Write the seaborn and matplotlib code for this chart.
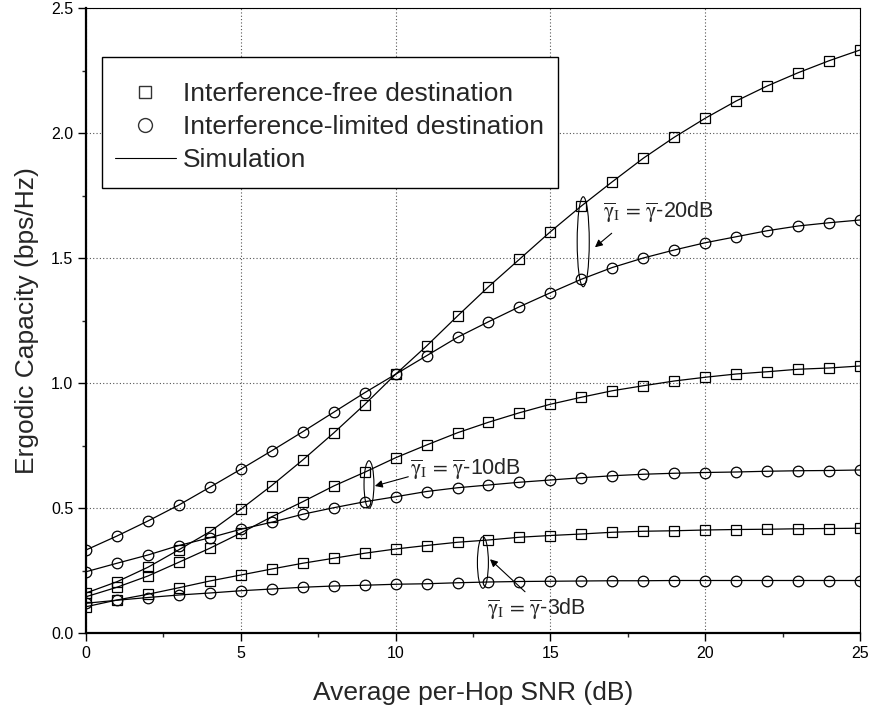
import matplotlib
matplotlib.use("Agg")
import matplotlib.pyplot as plt
from matplotlib.lines import Line2D
from matplotlib.patches import Ellipse, Rectangle
from matplotlib.ticker import MultipleLocator, AutoMinorLocator
import seaborn as sns
import pandas as pd

# ---------------- data ----------------
snr = list(range(26))
free_20 = [0.160, 0.205, 0.263, 0.333, 0.405, 0.495, 0.590, 0.692, 0.800, 0.914, 1.035, 1.148,
           1.268, 1.385, 1.495, 1.605, 1.708, 1.805, 1.899, 1.983, 2.059, 2.128, 2.188, 2.241,
           2.289, 2.332]
lim_20 = [0.332, 0.388, 0.448, 0.512, 0.583, 0.655, 0.729, 0.805, 0.883, 0.961, 1.035, 1.109,
          1.183, 1.245, 1.305, 1.361, 1.415, 1.462, 1.500, 1.532, 1.561, 1.585, 1.609, 1.628,
          1.641, 1.652]
free_10 = [0.145, 0.183, 0.228, 0.283, 0.339, 0.400, 0.465, 0.525, 0.588, 0.643, 0.701, 0.752,
           0.801, 0.843, 0.881, 0.915, 0.943, 0.969, 0.989, 1.008, 1.023, 1.036, 1.045, 1.055,
           1.060, 1.068]
lim_10 = [0.245, 0.279, 0.312, 0.350, 0.381, 0.415, 0.443, 0.475, 0.501, 0.525, 0.545, 0.566,
          0.581, 0.592, 0.603, 0.612, 0.621, 0.629, 0.635, 0.639, 0.642, 0.644, 0.647, 0.649,
          0.650, 0.652]
free_3 = [0.105, 0.132, 0.155, 0.181, 0.208, 0.232, 0.256, 0.279, 0.299, 0.319, 0.336, 0.350,
          0.363, 0.372, 0.383, 0.390, 0.396, 0.403, 0.407, 0.409, 0.412, 0.414, 0.415, 0.417,
          0.418, 0.419]
lim_3 = [0.119, 0.131, 0.142, 0.152, 0.160, 0.169, 0.176, 0.183, 0.188, 0.191, 0.195, 0.197,
         0.201, 0.204, 0.206, 0.207, 0.208, 0.209, 0.209, 0.210, 0.210, 0.210, 0.210, 0.210,
         0.210, 0.210]

series_names = ["free_20", "lim_20", "free_10", "lim_10", "free_3", "lim_3"]
series_vals = [free_20, lim_20, free_10, lim_10, free_3, lim_3]
series_marker = ["s", "o", "s", "o", "s", "o"]

legend_labels = ["Interference-free destination", "Interference-limited destination", "Simulation"]
x_label = "Average per-Hop SNR (dB)"
y_label = "Ergodic Capacity (bps/Hz)"
annot_labels = ["-20dB", "-10dB", "-3dB"]

# ---------------- style ----------------
sns.set_style("ticks")
plt.rcParams["font.family"] = ["Liberation Sans", "DejaVu Sans"]
plt.rcParams["mathtext.fontset"] = "stix"

W, H = 870, 711
fig = plt.figure(figsize=(8.7, 7.11), dpi=100)
L, R, T, B = 86, 860, 8, 633
ax = fig.add_axes([L / W, 1 - B / H, (R - L) / W, (B - T) / H])


def ax_frac(px, py):
    return (px - L) / (R - L), (B - py) / (B - T)


df = pd.DataFrame({"snr": snr * len(series_names),
                   "cap": sum(series_vals, []),
                   "series": sum([[n] * len(snr) for n in series_names], [])})

for name, mk in zip(series_names, series_marker):
    sub = df[df["series"] == name]
    sns.lineplot(data=sub, x="snr", y="cap", ax=ax, color="black", linewidth=0.9,
                 marker=mk, markersize=6.6 if mk == "s" else 7.6,
                 markerfacecolor="none", markeredgecolor="black", markeredgewidth=0.9,
                 zorder=3, legend=False)

ax.set_xlim(0, 25)
ax.set_ylim(0, 2.5)
ax.xaxis.set_major_locator(MultipleLocator(5))
ax.yaxis.set_major_locator(MultipleLocator(0.5))
ax.xaxis.set_minor_locator(AutoMinorLocator(2))
ax.yaxis.set_minor_locator(AutoMinorLocator(2))
ax.yaxis.set_major_formatter(matplotlib.ticker.FormatStrFormatter("%.1f"))
ax.tick_params(which="major", direction="out", length=5.5, width=1.0, labelsize=11.5, colors="black")
ax.tick_params(which="minor", direction="out", length=3, width=1.0)
ax.grid(True, which="major", color="#555555", linestyle=(0, (1, 2)), linewidth=0.8, zorder=0)
ax.set_axisbelow(True)

for s in ["left", "bottom"]:
    ax.spines[s].set_linewidth(1.6)
for s in ["top", "right"]:
    ax.spines[s].set_linewidth(0.8)
for s in ax.spines.values():
    s.set_color("black")
    s.set_visible(True)

ax.set_xlabel(x_label, fontsize=19, labelpad=15)
ax.set_ylabel(y_label, fontsize=19, labelpad=9)

# ---------------- legend ----------------
bx0, by0 = ax_frac(102, 188)
bx1, by1 = ax_frac(558, 57)
ax.add_patch(Rectangle((bx0, by0), bx1 - bx0, by1 - by0, transform=ax.transAxes,
                       facecolor="white", edgecolor="black", linewidth=1.0, zorder=5))

handles = [Line2D([], [], linestyle="none", marker="s", markersize=9, markerfacecolor="none",
                  markeredgecolor="#333333", markeredgewidth=1.0),
           Line2D([], [], linestyle="none", marker="o", markersize=10, markerfacecolor="none",
                  markeredgecolor="#333333", markeredgewidth=1.0),
           Line2D([], [], color="black", linewidth=0.8)]
lx, ly = ax_frac(115, 82)
leg = ax.legend(handles, legend_labels, loc="upper left",
                bbox_to_anchor=(lx, ly), borderaxespad=0,
                fontsize=19, frameon=False,
                handlelength=2.3, handletextpad=0.28, borderpad=0.0, labelspacing=0.34)
leg.set_zorder(6)

# ---------------- annotations ----------------
prefix = r"$\overline{\mathrm{\gamma}}_{\mathrm{I}}\,=\,\overline{\mathrm{\gamma}}$"
ellipses = [(16.06, 1.565, 0.39, 0.36), (9.14, 0.594, 0.32, 0.19), (12.82, 0.282, 0.355, 0.206)]
for (cx, cy, ew, eh) in ellipses:
    ax.add_patch(Ellipse((cx, cy), ew, eh, fill=False, edgecolor="black", linewidth=0.8, zorder=4))

texts = [(16.71, 1.66), (10.47, 0.632), (12.94, 0.072)]
for (tx, ty), lab in zip(texts, annot_labels):
    ax.text(tx, ty, prefix + lab, fontsize=15.5, va="baseline", ha="left", zorder=6)

arrows = [((16.98, 1.599), (16.44, 1.543)), ((10.41, 0.625), (9.33, 0.588)),
          ((14.18, 0.165), (13.05, 0.295))]
for (start, end) in arrows:
    ax.annotate("", xy=end, xytext=start,
                arrowprops=dict(arrowstyle="-|>", color="black", lw=0.8,
                                mutation_scale=11, shrinkA=0, shrinkB=0), zorder=6)

fig.savefig("out.png", dpi=100)
